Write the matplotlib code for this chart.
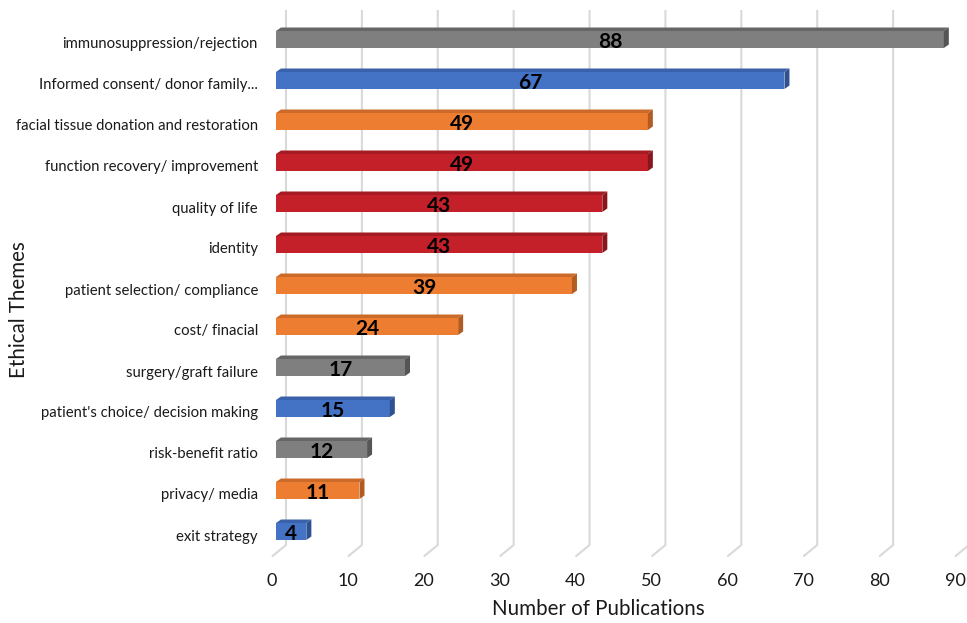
import matplotlib
matplotlib.use("Agg")
import matplotlib.pyplot as plt
from matplotlib.patches import Polygon

plt.rcParams['font.family'] = ['Lato', 'DejaVu Sans']

categories = ["immunosuppression/rejection", "Informed consent/ donor family...",
              "facial tissue donation and restoration", "function recovery/ improvement",
              "quality of life", "identity", "patient selection/ compliance",
              "cost/ finacial", "surgery/graft failure", "patient's choice/ decision making",
              "risk-benefit ratio", "privacy/ media", "exit strategy"]
values = [88, 67, 49, 49, 43, 43, 39, 24, 17, 15, 12, 11, 4]
groups = ["gray", "blue", "orange", "red", "red", "red", "orange", "orange",
          "gray", "blue", "gray", "orange", "blue"]
xticks = [0, 10, 20, 30, 40, 50, 60, 70, 80, 90]

palette = {
    "gray":   ("#7F7F7F", "#666666", "#555555"),
    "blue":   ("#4472C4", "#3A62AA", "#2F5091"),
    "orange": ("#ED7D31", "#CC6A29", "#B35C22"),
    "red":    ("#C3202A", "#A51B23", "#8A161D"),
}

W, H = 967, 623
fig = plt.figure(figsize=(W / 100, H / 100), dpi=100)
px_per_unit = 683 / 90.0
row_px = 41.0
y_top = 531.5 / row_px
y_bot = (531.5 - H) / row_px
ax = fig.add_axes([276 / W, 0, 683 / W, 1])
ax.set_xlim(0, 90)
ax.set_ylim(y_bot, y_top)
ax.axis('off')

def ux(px):
    return px / px_per_unit

def uy(px):
    return px / row_px

n = len(categories)
ypos = [n - 1 - i for i in range(n)]

# gridlines (back wall + floor diagonal)
back_dx = ux(10)
front_dx = ux(-4)
g_top = uy(531.5 - 10)
g_bot = uy(531.5 - 545)
g_front = uy(531.5 - 556.5)
for v in xticks:
    ax.plot([v + back_dx, v + back_dx, v + front_dx], [g_top, g_bot, g_front],
            color="#D9D9D9", lw=1.5, zorder=1, clip_on=False, solid_capstyle='butt')
    ax.text(v + front_dx, uy(531.5 - 581), str(v), ha='center', va='center',
            fontsize=13, color="#1a1a1a", clip_on=False)

bh = 17 / row_px
ddx = ux(5)
ddy = uy(3.5)
for y, v, g, lab in zip(ypos, values, groups, categories):
    front, top, side = palette[g]
    ax.barh(y, v, height=bh, color=front, zorder=3, clip_on=False)
    yt = y + bh / 2
    yb = y - bh / 2
    ax.add_patch(Polygon([(0, yt), (v, yt), (v + ddx, yt + ddy), (ddx, yt + ddy)],
                         closed=True, facecolor=top, edgecolor='none', zorder=3, clip_on=False))
    ax.add_patch(Polygon([(v, yb), (v, yt), (v + ddx, yt + ddy), (v + ddx, yb + ddy)],
                         closed=True, facecolor=side, edgecolor='none', zorder=3, clip_on=False))
    ax.text(v / 2, y - uy(2.5), str(v), ha='center', va='center', fontsize=15,
            fontweight='bold', color='black', zorder=5, clip_on=False)
    ax.text(ux(258 - 276), y - uy(5), lab, ha='right', va='center', fontsize=10.7,
            color="#1a1a1a", clip_on=False)

ax.text(ux(598 - 276), uy(531.5 - 609), "Number of Publications", ha='center', va='center',
        fontsize=14.8, color="#1a1a1a", clip_on=False)
ax.text(ux(19 - 276), uy(531.5 - 310), "Ethical Themes", ha='center', va='center',
        rotation=90, fontsize=14.8, color="#1a1a1a", clip_on=False)

fig.savefig("out.png", dpi=100, facecolor='white')
